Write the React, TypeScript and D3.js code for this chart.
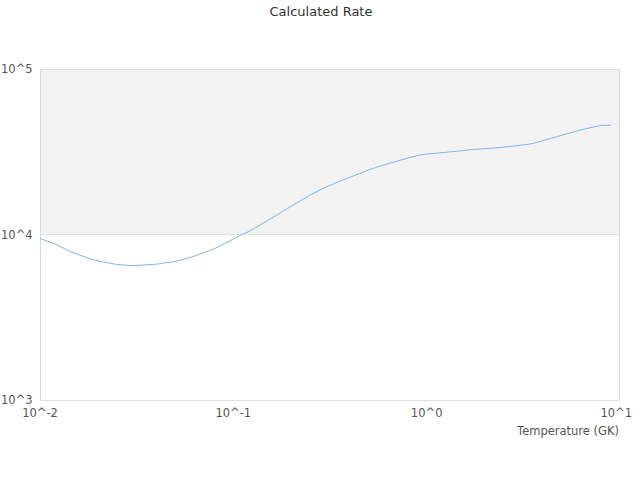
import React from "react";
import * as d3 from "d3";

const temperatures = [
  0.01, 0.011, 0.012, 0.013, 0.014, 0.015, 0.016, 0.018, 0.02, 0.025, 0.03, 0.04, 0.05, 0.06,
  0.07, 0.08, 0.09, 0.1, 0.11, 0.12, 0.13, 0.14, 0.15, 0.16, 0.18, 0.2, 0.25, 0.3, 0.35, 0.4,
  0.45, 0.5, 0.6, 0.7, 0.8, 0.9, 1, 1.25, 1.5, 1.75, 2, 2.5, 3, 3.5, 4, 5, 6, 7, 8, 9,
];
const rates = [
  9460, 9073, 8739, 8346, 8004, 7733, 7520, 7153, 6918, 6589, 6480, 6617, 6870, 7262,
  7733, 8207, 8823, 9393, 9931, 10426, 10977, 11540, 12150, 12668, 13772, 14866, 17330, 19286, 20845, 22160,
  23366, 24531, 26303, 27693, 28998, 30012, 30647, 31338, 32040, 32718, 32990, 33689, 34496, 35318, 36983, 39756, 42330, 44130, 45690, 45690,
];
const xTicks = [0.01, 0.1, 1, 10];
const xTickLabels = ["10^-2", "10^-1", "10^0", "10^1"];
const yTicks = [1000, 10000, 100000];
const yTickLabels = ["10^3", "10^4", "10^5"];
const title = "Calculated Rate";
const xAxisTitle = "Temperature (GK)";

export default function App() {
  const W = 640;
  const H = 480;
  const left = 40;
  const right = 620;
  const top = 69;
  const bottom = 400;
  const x = d3.scaleLog().domain([0.01, 10]).range([left, right]);
  const y = d3.scaleLog().domain([1000, 100000]).range([bottom, top]);
  const pts: [number, number][] = temperatures.map((t, i) => [t, rates[i]]);
  const line = d3
    .line<[number, number]>()
    .x((d) => x(d[0]))
    .y((d) => y(d[1]));
  const font = "'DejaVu Sans', sans-serif";
  return (
    <div style={{ position: "absolute", left: 0, top: 0, width: W, height: H }}>
      <svg width={W} height={H} style={{ display: "block", fontFamily: font }}>
        <rect x={0} y={0} width={W} height={H} fill="#ffffff" />
        <rect
          x={left}
          y={y(100000)}
          width={right - left}
          height={y(10000) - y(100000)}
          fill="#f2f2f2"
        />
        {yTicks.map((t) => (
          <line
            key={"g" + t}
            x1={left}
            x2={right}
            y1={Math.round(y(t)) + 0.5}
            y2={Math.round(y(t)) + 0.5}
            stroke="#e0e0e0"
            strokeWidth={1}
          />
        ))}
        <line x1={left + 0.5} x2={left + 0.5} y1={top} y2={bottom} stroke="#d8d8d8" />
        <line x1={right - 0.5} x2={right - 0.5} y1={top} y2={bottom} stroke="#d8d8d8" />
        <path
          d={line(pts) || ""}
          fill="none"
          stroke="#7cb5ec"
          strokeWidth={1}
          strokeLinejoin="round"
        />
        {yTicks.map((t, i) => (
          <text
            key={"yl" + t}
            x={1}
            y={y(t) + 4}
            fontSize={11.5}
            fill="#555"
            textAnchor="start"
          >
            {yTickLabels[i]}
          </text>
        ))}
        {xTicks.map((t, i) => {
          const isLast = i === xTicks.length - 1;
          return (
            <text
              key={"xl" + t}
              x={isLast ? 632 : x(t)}
              y={417}
              fontSize={11.5}
              fill="#555"
              textAnchor={isLast ? "end" : "middle"}
            >
              {xTickLabels[i]}
            </text>
          );
        })}
        <text x={619} y={435} fontSize={11.5} fill="#555" textAnchor="end">
          {xAxisTitle}
        </text>
        <text x={W / 2 + 1} y={16} fontSize={13} fill="#333" textAnchor="middle">
          {title}
        </text>
      </svg>
    </div>
  );
}
